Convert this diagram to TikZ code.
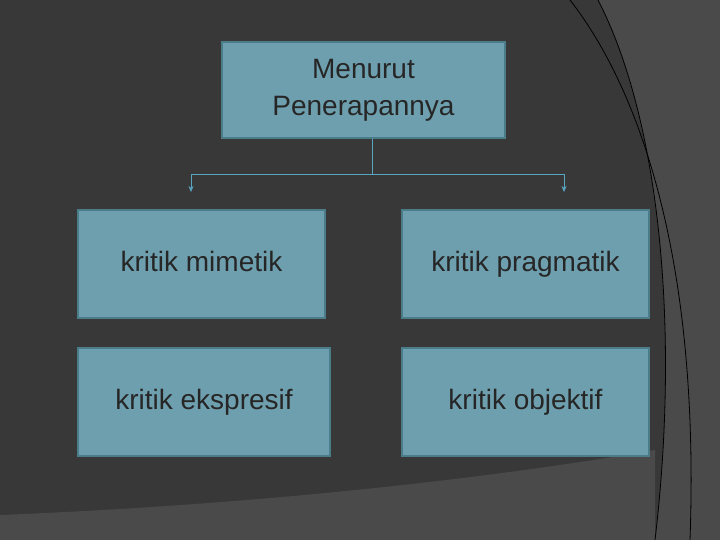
\documentclass[tikz,border=0pt]{standalone}
\usepackage{fontspec}
\setmainfont{Liberation Sans}
\usetikzlibrary{arrows.meta}
\definecolor{bgdark}{HTML}{383838}
\definecolor{bglight}{HTML}{4A4A4A}
\definecolor{boxfill}{HTML}{6E9FAE}
\definecolor{boxline}{HTML}{4B7C8A}
\definecolor{linkline}{HTML}{5AA5C2}
\tikzset{
  kotak/.style={rectangle, draw=boxline, line width=1.5pt, fill=boxfill,
      font=\fontsize{28}{37}\selectfont, text=black!85, align=center, inner sep=0pt},
  isi/.style={kotak, minimum height=108pt, text height=20pt, text depth=6pt},
  panah/.style={-{Stealth[length=6pt,width=5pt]}, linkline, thin},
}
\begin{document}
\begin{tikzpicture}[x=1pt,y=-1pt]
  \useasboundingbox (0,0) rectangle (720,540);
  \fill[bgdark] (0,0) rectangle (720,540);
  \fill[bglight] (598,0) .. controls (660,120) and (680,330) .. (655,540) -- (720,540) -- (720,0) -- cycle;
  \fill[bglight] (0,515) .. controls (250,505) and (480,480) .. (655,450) -- (655,540) -- (0,540) -- cycle;
  \draw[black, thick] (598,0) .. controls (660,120) and (680,330) .. (655,540);
  \draw[black, thick] (570,0) .. controls (640,90) and (700,260) .. (690,540);

  \node[kotak, minimum width=283pt, minimum height=96pt] (judul) at (363.5,90) {Menurut\\Penerapannya};
  \node[isi, minimum width=247pt] (mimetik) at (201.5,264) {kritik mimetik};
  \node[isi, minimum width=247pt] (pragmatik) at (525.5,264) {kritik pragmatik};
  \node[isi, minimum width=252pt] (ekspresif) at (204,402) {kritik ekspresif};
  \node[isi, minimum width=247pt] (objektif) at (525.5,402) {kritik objektif};

  \coordinate (simpul) at (372,174);
  \coordinate (kiri) at (191,174);
  \coordinate (kanan) at (564,174);
  \draw[linkline, thin] (judul.south -| simpul) -- (simpul);
  \draw[linkline, thin] (kiri) -- (kanan);
  \draw[panah] (kiri) -- ++(0,18);
  \draw[panah] (kanan) -- ++(0,18);
\end{tikzpicture}
\end{document}
